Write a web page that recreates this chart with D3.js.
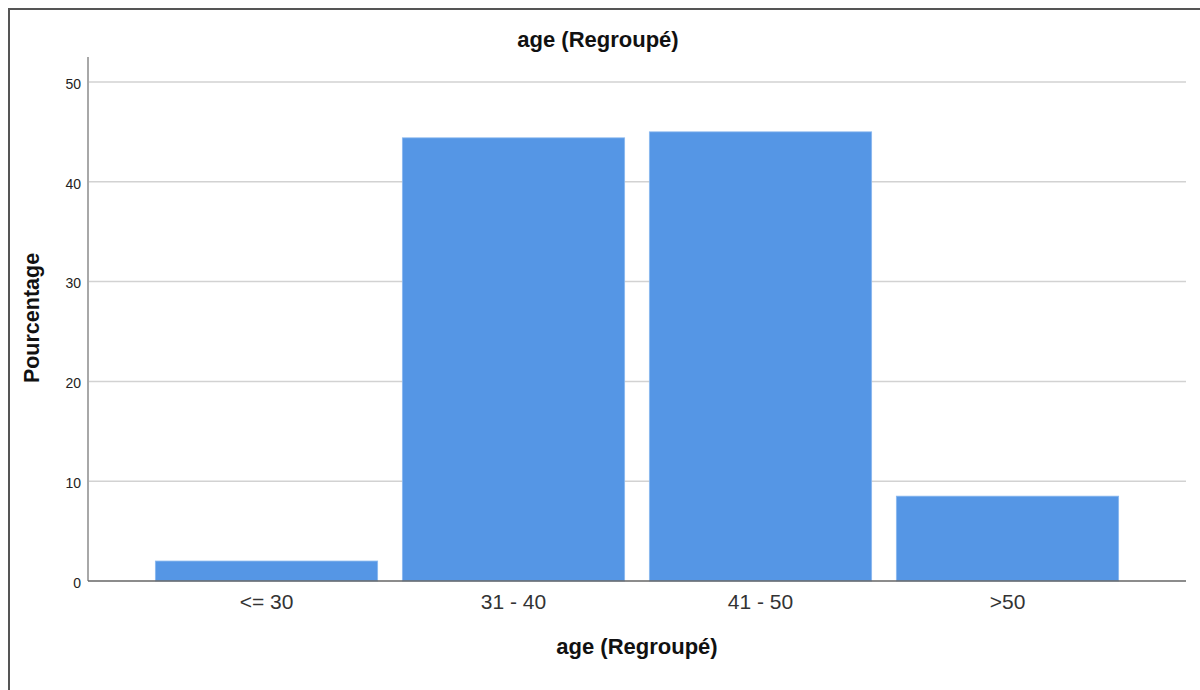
<!DOCTYPE html>
<html>
<head>
<meta charset="utf-8">
<script src="https://cdn.jsdelivr.net/npm/d3@7"></script>
<style>
  html, body { margin: 0; padding: 0; background: #fff; }
  svg { display: block; font-family: "Liberation Sans", Arial, sans-serif; }
</style>
</head>
<body>
<svg id="chart" width="1200" height="690"></svg>
<script>
// Age groups and their share of respondents (%)
const categories = ["<= 30", "31 - 40", "41 - 50", ">50"];
const percentages = [2.0, 44.4, 45.0, 8.5];
const yTicks = [0, 10, 20, 30, 40, 50];

const chartTitle = "age (Regroupé)";
const xTitle = "age (Regroupé)";
const yTitle = "Pourcentage";

const svg = d3.select("#chart");

// outer frame
svg.append("rect")
  .attr("x", 9).attr("y", 9)
  .attr("width", 1200).attr("height", 700)
  .attr("fill", "#fff")
  .attr("stroke", "#555").attr("stroke-width", 2);

const plot = { left: 88, right: 1186, top: 57, bottom: 581 };

const x = d3.scaleBand()
  .domain(categories)
  .range([plot.left, plot.right])
  .paddingInner(0.1)
  .paddingOuter(0.2727);

const y = d3.scaleLinear()
  .domain([0, 52.5])
  .range([plot.bottom, plot.top]);

// horizontal gridlines
svg.append("g")
  .selectAll("line")
  .data(yTicks.filter(d => d > 0))
  .join("line")
  .attr("x1", plot.left).attr("x2", plot.right)
  .attr("y1", d => y(d)).attr("y2", d => y(d))
  .attr("stroke", "#d2d2d2").attr("stroke-width", 1.5);

// bars
svg.append("g")
  .selectAll("rect")
  .data(categories.map((c, i) => ({ c, v: percentages[i] })))
  .join("rect")
  .attr("x", d => x(d.c))
  .attr("width", x.bandwidth())
  .attr("y", d => y(d.v))
  .attr("height", d => y(0) - y(d.v))
  .attr("fill", "#5596e5")
  .attr("stroke", "#8ab8ef").attr("stroke-width", 0.8);

// y axis
const yAxis = d3.axisLeft(y).tickValues(yTicks).tickSize(0).tickPadding(7);
const gy = svg.append("g").attr("transform", `translate(${plot.left},0)`).call(yAxis);
gy.select(".domain").attr("stroke", "#a8a8a8").attr("stroke-width", 2)
  .attr("d", `M0,${plot.top}V${plot.bottom}`);
gy.selectAll("text").attr("font-size", 14).attr("fill", "#222")
  .attr("dy", "0.45em")
  .attr("font-family", "Liberation Sans, Arial, sans-serif");

// x axis
const xAxis = d3.axisBottom(x).tickSize(0).tickPadding(13);
const gx = svg.append("g").attr("transform", `translate(0,${plot.bottom})`).call(xAxis);
gx.select(".domain").attr("stroke", "#666").attr("stroke-width", 1.5)
  .attr("d", `M${plot.left},0H${plot.right}`);
gx.selectAll("text").attr("font-size", 21).attr("fill", "#333")
  .attr("font-family", "Liberation Sans, Arial, sans-serif");

// titles
svg.append("text")
  .attr("x", 598).attr("y", 47)
  .attr("text-anchor", "middle")
  .attr("font-size", 22).attr("font-weight", "bold").attr("fill", "#111")
  .text(chartTitle);

svg.append("text")
  .attr("x", (plot.left + plot.right) / 2).attr("y", 654)
  .attr("text-anchor", "middle")
  .attr("font-size", 22).attr("font-weight", "bold").attr("fill", "#111")
  .text(xTitle);

svg.append("text")
  .attr("transform", `translate(39,${318}) rotate(-90)`)
  .attr("text-anchor", "middle")
  .attr("font-size", 21.5).attr("font-weight", "bold").attr("fill", "#111")
  .text(yTitle);
</script>
</body>
</html>
